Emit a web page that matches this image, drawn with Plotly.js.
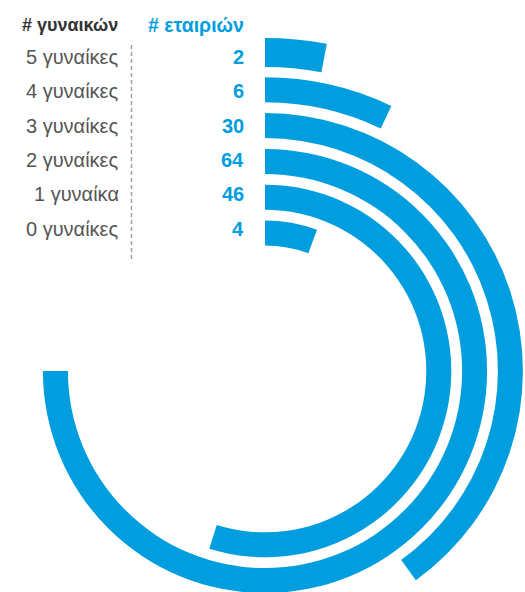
<!DOCTYPE html>
<html>
<head>
<meta charset="utf-8">
<script src="https://cdn.plot.ly/plotly-3.0.1.min.js"></script>
<style>
  html, body { margin: 0; padding: 0; width: 525px; height: 592px; overflow: hidden; background: #fff; position: relative; }
  #chart { position: absolute; left: -135px; top: -29px; width: 800px; height: 800px; }
</style>
</head>
<body>
<div id="chart"></div>
<script>
// ---- data (outermost ring first) ----
const womenLabels = ['5 γυναίκες', '4 γυναίκες', '3 γυναίκες', '2 γυναίκες', '1 γυναίκα', '0 γυναίκες'];
const companies   = [2, 6, 30, 64, 46, 4];
// sweep of each arc as drawn in the reference (degrees, clockwise from 12 o'clock)
const arcDeg      = [10.7, 25.5, 144.2, 270, 197.4, 20.2];
const headerLeft  = '# γυναικών';
const headerRight = '# εταιριών';

// ---- layout helpers ----
const OFF_X = -135, OFF_Y = -29, W = 800, H = 800;
const px = x => (x - OFF_X) / W;
const py = y => 1 - (y - OFF_Y) / H;

const BLUE = '#009ede';
const n = companies.length;
const thick = 25;
const ringMid = companies.map((_, k) => 138 + 35.8 * (n - 1 - k) + (k === 0 ? 1.5 : 0));
const ringThick = companies.map((_, k) => (k === 0 ? 29 : thick));

const trace = {
  type: 'barpolar',
  r: ringThick,
  base: ringMid.map((m, k) => m - ringThick[k] / 2),
  theta: arcDeg.map(d => d / 2),
  width: arcDeg,
  marker: { color: BLUE, line: { width: 0 } },
  hoverinfo: 'skip',
  showlegend: false
};

const FONT = 'Liberation Sans, Arial, sans-serif';
const annotations = [];
const rowY = k => 57 + 34.3 * k;
annotations.push({
  xref: 'paper', yref: 'paper', x: px(120), y: py(25), xanchor: 'right', yanchor: 'middle',
  text: '<b>' + headerLeft + '</b>', showarrow: false,
  font: { family: FONT, size: 18, color: '#333333' }
});
annotations.push({
  xref: 'paper', yref: 'paper', x: px(246), y: py(25), xanchor: 'right', yanchor: 'middle',
  text: '<b>' + headerRight + '</b>', showarrow: false,
  font: { family: FONT, size: 19.5, color: BLUE }
});
womenLabels.forEach((lab, k) => {
  annotations.push({
    xref: 'paper', yref: 'paper', x: px(121), y: py(rowY(k)), xanchor: 'right', yanchor: 'middle',
    text: lab, showarrow: false,
    font: { family: FONT, size: 20, color: '#555555' }
  });
  annotations.push({
    xref: 'paper', yref: 'paper', x: px(246), y: py(rowY(k)), xanchor: 'right', yanchor: 'middle',
    text: '<b>' + companies[k] + '</b>', showarrow: false,
    font: { family: FONT, size: 20, color: BLUE }
  });
});

const layout = {
  width: W, height: H,
  margin: { l: 0, r: 0, t: 0, b: 0, pad: 0 },
  paper_bgcolor: 'rgba(0,0,0,0)',
  showlegend: false,
  polar: {
    domain: { x: [0, 1], y: [0, 1] },
    bgcolor: 'rgba(0,0,0,0)',
    radialaxis: { range: [0, 400], visible: false, showgrid: false },
    angularaxis: { rotation: 90, direction: 'clockwise', visible: false, showgrid: false }
  },
  annotations: annotations,
  shapes: [{
    type: 'line', xref: 'paper', yref: 'paper',
    x0: px(131.5), x1: px(131.5), y0: py(45), y1: py(260),
    line: { color: '#a0a0a0', width: 1.5, dash: '4px,3px' }
  }]
};

Plotly.newPlot('chart', [trace], layout, { displayModeBar: false, staticPlot: true });
</script>
</body>
</html>
